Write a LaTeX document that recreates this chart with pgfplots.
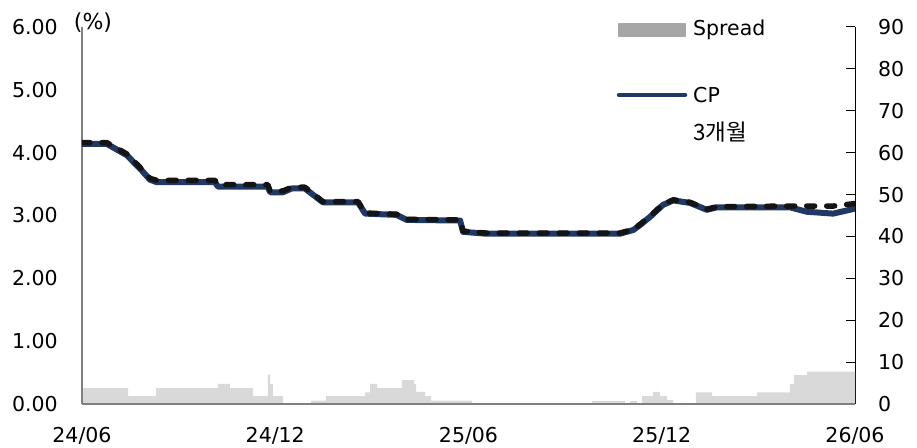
\documentclass[border=0pt]{standalone}
\usepackage{pgfplots}
\pgfplotsset{compat=1.18}
\usepackage{fontspec}
\setmainfont{DejaVu Sans}
\newfontfamily\kr{Noto Sans CJK KR}
\definecolor{navy}{RGB}{31,56,100}
\definecolor{sprfill}{RGB}{217,217,217}
\definecolor{leggray}{RGB}{166,166,166}
\definecolor{axgray}{RGB}{128,128,128}
\begin{document}
\begin{tikzpicture}[font=\fontsize{20.5bp}{24bp}\selectfont]
\pgfplotsset{
  common/.style={scale only axis, width=773bp, height=377bp, at={(0,0)}, anchor=south west,
    xmin=0, xmax=24,
    tick label style={font=\fontsize{20.5bp}{24bp}\selectfont, /pgf/number format/assume math mode=true}},
}
\begin{axis}[common, ymin=0, ymax=90, axis x line=none, axis y line*=right,
  ytick={0,10,...,90},
  y axis line style={black, line width=1bp}, ytick style={black, line width=1bp},
  tick align=inside, major tick length=9bp,
  yticklabel style={inner sep=0pt, anchor=west, xshift=23bp}]
\addplot[const plot, fill=sprfill, draw=none] table {
x y
0 3.8
1.43 1.9
2.30 3.8
4.22 4.8
4.59 3.8
5.31 1.9
5.77 7.0
5.84 4.8
5.93 1.9
6.24 0
7.11 0.8
7.58 1.9
8.79 2.8
8.94 4.8
9.16 3.8
9.93 5.7
10.31 4.8
10.37 2.9
10.65 1.9
10.84 0.8
12.11 0
15.83 0.7
16.86 0
17.01 0.7
17.23 0
17.39 1.9
17.73 2.9
17.94 1.9
18.16 0.9
18.35 0
19.06 2.8
19.56 1.9
20.96 2.8
21.98 4.8
22.10 6.9
22.51 7.7
24 7.7
} \closedcycle;
\end{axis}
\begin{axis}[common, ymin=0, ymax=6, axis y line*=left, axis x line*=bottom,
  axis line style={axgray, line width=1.5bp}, major tick length=0pt,
  ytick={0,1,...,6},
  yticklabel style={inner sep=0pt, anchor=east, xshift=-24bp,
    /pgf/number format/.cd, fixed, fixed zerofill, precision=2},
  xtick={0,6,12,18,24}, xticklabels={24/06,24/12,25/06,25/12,26/06},
  xticklabel style={inner sep=0pt, anchor=north, yshift=-23bp}]
\addplot[navy, line width=6bp, line join=round, line cap=round] table {
x y
0 4.14
0.77 4.14
1.39 3.96
1.85 3.72
2.11 3.57
2.32 3.53
4.13 3.53
4.22 3.46
5.77 3.46
5.84 3.37
6.24 3.37
6.51 3.43
6.92 3.43
7.48 3.21
8.57 3.21
8.79 3.03
9.77 3.01
10.08 2.93
11.74 2.92
11.83 2.74
12.56 2.71
16.70 2.71
17.12 2.77
17.33 2.85
17.64 2.98
18.04 3.17
18.36 3.24
18.88 3.20
19.40 3.09
19.71 3.13
21.98 3.13
22.50 3.06
23.32 3.03
24 3.11
};
\addplot[black!92, line width=5.5bp, line join=round, line cap=round, dash pattern=on 8bp off 12bp] table {
x y
0 4.16
0.77 4.16
1.39 3.98
1.85 3.74
2.11 3.59
2.32 3.56
4.13 3.56
4.22 3.49
5.77 3.49
5.84 3.39
6.24 3.39
6.51 3.45
6.92 3.45
7.48 3.22
8.57 3.22
8.79 3.04
9.77 3.02
10.08 2.94
11.74 2.93
11.83 2.75
12.56 2.72
16.70 2.72
17.12 2.78
17.33 2.86
17.64 2.99
18.04 3.18
18.36 3.25
18.88 3.21
19.40 3.10
19.71 3.14
21.98 3.15
23.32 3.15
24 3.19
};
\end{axis}
\fill[leggray] (536bp,367bp) rectangle (604bp,381bp);
\node[anchor=west, inner sep=0pt] at (611bp,374bp) {Spread};
\draw[navy, line width=4.5bp, line cap=round] (537bp,309bp) -- (603bp,309bp);
\node[anchor=west, inner sep=0pt] at (611bp,309bp) {CP};
\node[anchor=west, inner sep=0pt] at (611bp,272bp) {\kr\fontsize{22.5bp}{26bp}\selectfont 3개월};
\node[inner sep=0pt] at (11bp,381bp) {\fontsize{22bp}{26bp}\selectfont(\%)};
\pgfresetboundingbox
\path[use as bounding box] (-82bp,-44bp) rectangle (835bp,404bp);
\end{tikzpicture}
\end{document}
